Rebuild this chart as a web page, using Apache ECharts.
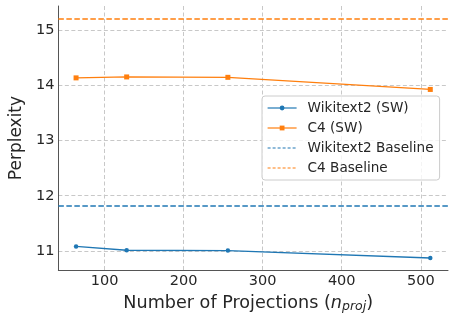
<!DOCTYPE html>
<html>
<head>
<meta charset="utf-8">
<script src="https://cdn.jsdelivr.net/npm/echarts@6/dist/echarts.min.js"></script>
<style>html,body{margin:0;padding:0;background:#fff}#c{width:455px;height:318px}</style>
</head>
<body>
<div id="c"></div>
<script>
const projections = [64, 128, 256, 512];
const wikiSW = [11.08, 11.01, 11.005, 10.87];
const c4SW = [14.14, 14.157, 14.15, 13.93];
const wikiBaseline = 11.82;
const c4Baseline = 15.22;
const xRange = [41.6, 534.4];
const yRange = [10.65, 15.445];

const blue = '#1f77b4', orange = '#ff7f0e';
const txt = '#262626';
const font = 'DejaVu Sans';

const chart = echarts.init(document.getElementById('c'), null, {renderer: 'canvas'});
chart.setOption({
  animation: false,
  backgroundColor: '#fff',
  textStyle: {fontFamily: font, color: txt},
  grid: {left: 48, right: 7, top: 6, bottom: 47, containLabel: false},
  xAxis: {
    type: 'value', min: xRange[0], max: xRange[1], splitNumber: 5,
    axisLine: {show: true, onZero: false, lineStyle: {color: '#555', width: 1}},
    axisTick: {show: false},
    axisLabel: {showMinLabel: false, showMaxLabel: false, fontSize: 14.5, color: txt, fontFamily: font, margin: 4},
    splitLine: {show: true, showMinLine: false, showMaxLine: false, lineStyle: {color: '#c8c8c8', type: [4, 2.5], width: 1}},
    name: '{a|Number of Projections (}{i|n}{s|proj}{a|)}',
    nameLocation: 'middle', nameGap: 15,
    nameTextStyle: {
      fontFamily: font, color: txt, verticalAlign: 'top', padding: [0, 10, 0, 0],
      rich: {
        a: {fontSize: 17.6, fontFamily: font, color: txt, lineHeight: 20},
        i: {fontSize: 17.6, fontFamily: font, color: txt, fontStyle: 'italic', lineHeight: 20},
        s: {fontSize: 12.5, fontFamily: font, color: txt, fontStyle: 'italic', lineHeight: 12, verticalAlign: 'bottom'}
      }
    }
  },
  yAxis: {
    type: 'value', min: yRange[0], max: yRange[1], splitNumber: 5,
    axisLine: {show: true, onZero: false, lineStyle: {color: '#555', width: 1}},
    axisTick: {show: false},
    axisLabel: {showMinLabel: false, showMaxLabel: false, fontSize: 14.5, color: txt, fontFamily: font, margin: 4},
    splitLine: {show: true, showMinLine: false, showMaxLine: false, lineStyle: {color: '#c8c8c8', type: [4, 2.5], width: 1}},
    name: 'Perplexity', nameLocation: 'middle', nameGap: 28,
    nameTextStyle: {fontSize: 17, fontFamily: font, color: txt}
  },
  legend: {
    orient: 'vertical', left: 262, top: 96,
    padding: [4, 6, 4, 5], itemGap: 4, itemWidth: 29, itemHeight: 6,
    backgroundColor: 'rgba(255,255,255,0.8)', borderColor: '#cccccc', borderWidth: 1, borderRadius: 3,
    lineStyle: {width: 1.2},
    textStyle: {fontSize: 13.6, fontFamily: font, color: txt, padding: [0, 0, 0, 6], lineHeight: 16},
    data: [
      {name: 'Wikitext2 (SW)'},
      {name: 'C4 (SW)'},
      {name: 'Wikitext2 Baseline', itemStyle: {opacity: 0}, lineStyle: {width: 1.2, type: [3, 2]}},
      {name: 'C4 Baseline', itemStyle: {opacity: 0}, lineStyle: {width: 1.2, type: [3, 2]}}
    ]
  },
  series: [
    {
      name: 'Wikitext2 (SW)', type: 'line',
      data: projections.map((x, i) => [x, wikiSW[i]]),
      symbol: 'circle', symbolSize: 4.5, showSymbol: true,
      lineStyle: {color: blue, width: 1.3}, itemStyle: {color: blue}
    },
    {
      name: 'C4 (SW)', type: 'line',
      data: projections.map((x, i) => [x, c4SW[i]]),
      symbol: 'rect', symbolSize: 5, showSymbol: true,
      lineStyle: {color: orange, width: 1.3}, itemStyle: {color: orange}
    },
    {
      name: 'Wikitext2 Baseline', type: 'line', data: [], symbol: 'none',
      lineStyle: {color: blue, width: 1.5, type: [5.5, 2.5]}, itemStyle: {color: blue},
      markLine: {
        silent: true, symbol: 'none', label: {show: false},
        lineStyle: {color: blue, width: 1.5, type: [5.5, 2.5]},
        data: [{yAxis: wikiBaseline}]
      }
    },
    {
      name: 'C4 Baseline', type: 'line', data: [], symbol: 'none',
      lineStyle: {color: orange, width: 1.5, type: [5.5, 2.5]}, itemStyle: {color: orange},
      markLine: {
        silent: true, symbol: 'none', label: {show: false},
        lineStyle: {color: orange, width: 1.5, type: [5.5, 2.5]},
        data: [{yAxis: c4Baseline}]
      }
    }
  ]
});
</script>
</body>
</html>
